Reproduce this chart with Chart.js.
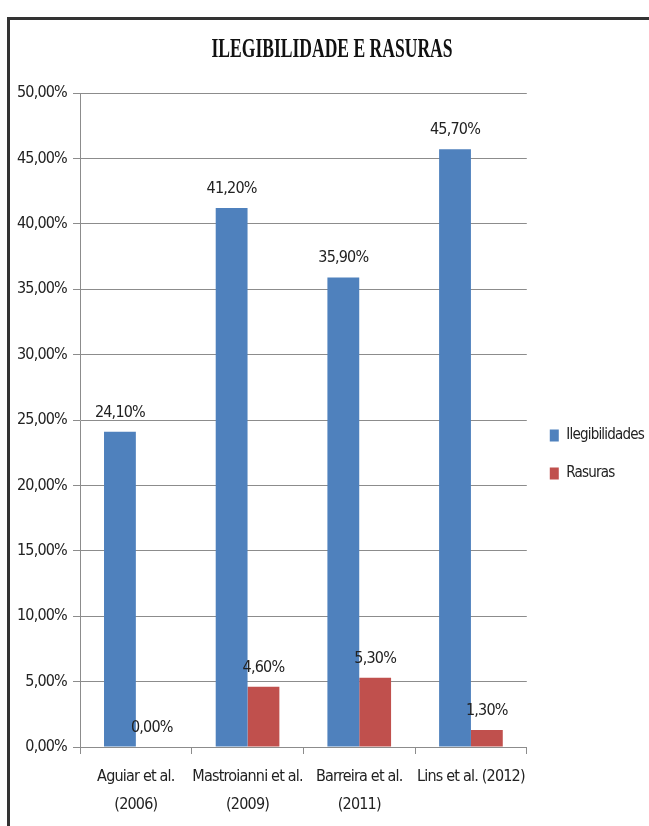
<!DOCTYPE html>
<html>
<head>
<meta charset="utf-8">
<script src="https://cdn.jsdelivr.net/npm/chart.js@4"></script>
<style>
  html, body { margin: 0; padding: 0; overflow: hidden; background: #fff; }
  #frame {
    position: absolute; left: 7px; top: 17px;
    width: 700px; height: 900px;
    border: 3px solid #333;
  }
  #wrap { position: absolute; left: 0; top: 0; width: 649px; height: 826px; }
</style>
</head>
<body>
<div id="frame"></div>
<div id="wrap"><canvas id="chart"></canvas></div>
<script>
// dados do gráfico
const categorias = [
    ["Aguiar et al.", "(2006)"],
    ["Mastroianni et al.", "(2009)"],
    ["Barreira et al.", "(2011)"],
    "Lins et al. (2012)"
];
const ilegibilidades = [24.1, 41.2, 35.9, 45.7];
const rasuras = [0.0, 4.6, 5.3, 1.3];
const titulo = "ILEGIBILIDADE E RASURAS";

const fonte = "'DejaVu Sans Condensed', 'Liberation Sans Narrow', sans-serif";
const espacamento = "-0.8px";

function pct(v) {
    return v.toFixed(2).replace(".", ",") + "%";
}

// texto mais apertado, parecido com Calibri
const apertoPlugin = {
    id: "apertoPlugin",
    beforeLayout(chart) { chart.ctx.letterSpacing = espacamento; },
    beforeDraw(chart) { chart.ctx.letterSpacing = espacamento; }
};

// título em fonte serifada condensada
const tituloPlugin = {
    id: "tituloPlugin",
    afterDraw(chart) {
        const ctx = chart.ctx;
        ctx.save();
        ctx.letterSpacing = "0px";
        ctx.font = "bold 27px 'Liberation Serif', serif";
        const w = ctx.measureText(titulo).width;
        const sx = 241 / w;
        ctx.translate(332, 50);
        ctx.scale(sx, 1);
        ctx.fillStyle = "#111";
        ctx.textAlign = "center";
        ctx.textBaseline = "middle";
        ctx.fillText(titulo, 0, 0);
        ctx.restore();
    }
};

// rótulos de valor acima das barras
const rotulosPlugin = {
    id: "rotulosPlugin",
    afterDatasetsDraw(chart) {
        const ctx = chart.ctx;
        ctx.save();
        ctx.font = "16px " + fonte;
        ctx.fillStyle = "#222";
        ctx.textAlign = "center";
        ctx.textBaseline = "alphabetic";
        chart.data.datasets.forEach((ds, i) => {
            chart.getDatasetMeta(i).data.forEach((bar, j) => {
                ctx.fillText(pct(ds.data[j]), bar.x, bar.y - 15);
            });
        });
        ctx.restore();
    }
};

const ctx = document.getElementById("chart").getContext("2d");
new Chart(ctx, {
    type: "bar",
    data: {
        labels: categorias,
        datasets: [
            {
                label: "Ilegibilidades",
                data: ilegibilidades,
                backgroundColor: "#4F81BD"
            },
            {
                label: "Rasuras",
                data: rasuras,
                backgroundColor: "#C0504D"
            }
        ]
    },
    options: {
        responsive: true,
        maintainAspectRatio: false,
        animation: false,
        layout: {
            padding: { top: 93, bottom: 10, left: 0, right: -5 }
        },
        datasets: {
            bar: { categoryPercentage: 0.57, barPercentage: 1.0 }
        },
        scales: {
            x: {
                grid: {
                    offset: true,
                    drawOnChartArea: false,
                    color: "#8c8c8c",
                    tickLength: 7
                },
                border: { color: "#8c8c8c" },
                ticks: {
                    color: "#222",
                    font: { family: fonte, size: 16, lineHeight: 1.75 },
                    maxRotation: 0,
                    autoSkip: false,
                    padding: 9
                },
                afterFit(s) { s.height = 69; }
            },
            y: {
                min: 0,
                max: 50,
                ticks: {
                    stepSize: 5,
                    color: "#222",
                    font: { family: fonte, size: 16 },
                    padding: 6,
                    callback: (v) => pct(v)
                },
                grid: { color: "#8c8c8c", tickLength: 7 },
                border: { color: "#8c8c8c" },
                afterFit(s) { s.width = 80; }
            }
        },
        plugins: {
            title: { display: false },
            tooltip: { enabled: false },
            legend: {
                position: "right",
                labels: {
                    color: "#222",
                    font: { family: fonte, size: 15 },
                    boxWidth: 9,
                    boxHeight: 12,
                    padding: 23
                }
            }
        }
    },
    plugins: [apertoPlugin, tituloPlugin, rotulosPlugin]
});
</script>
</body>
</html>
